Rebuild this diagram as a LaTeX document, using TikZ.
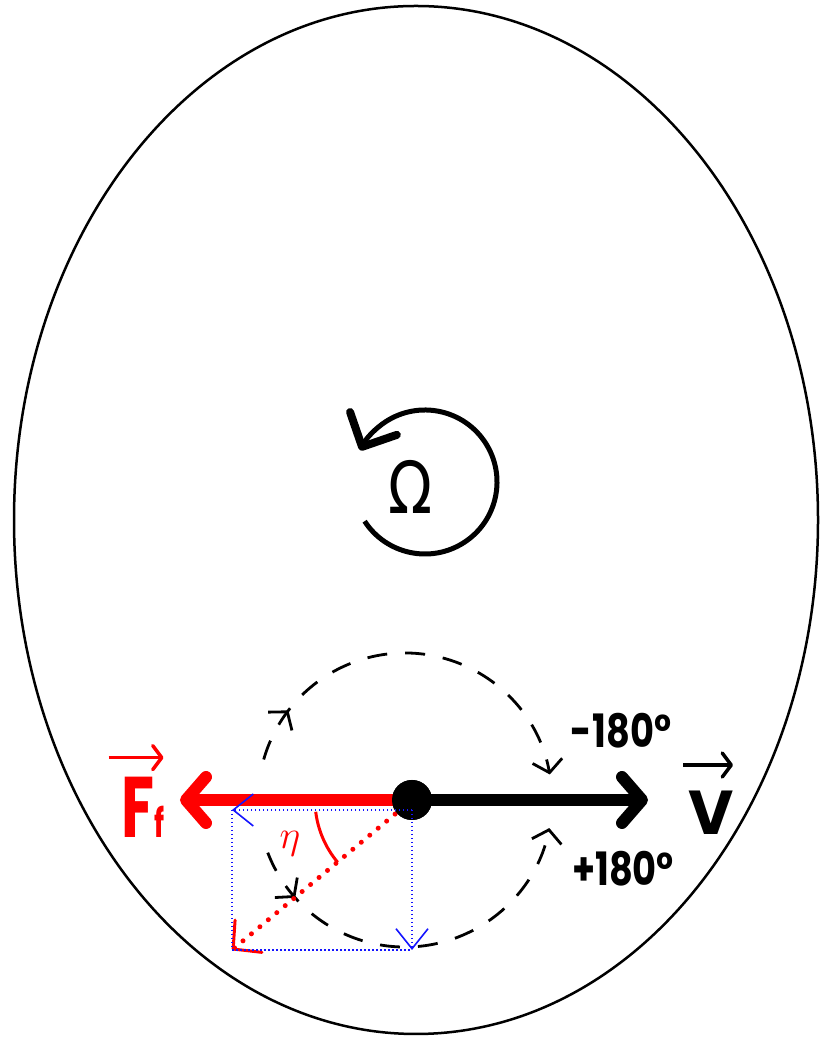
\documentclass[tikz,border=0pt]{standalone}
\usepackage{fontspec}
\setsansfont{Poppins}
\newfontfamily\omegafont{DejaVu Sans}
\usetikzlibrary{arrows.meta,decorations.markings}

\definecolor{fred}{RGB}{255,0,0}
\definecolor{pblue}{RGB}{20,20,255}
\newcommand{\squeeze}[1]{\scalebox{0.8}[1]{#1}}

\begin{document}
\begin{tikzpicture}[x=1pt, y=1pt,
    every node/.style={font=\sffamily, inner sep=0pt},
    hubdot/.style={circle, fill=black, minimum size=40pt},
    bigvec/.style={line width=12pt, -{Straight Barb[length=20pt, width=46pt, round]}},
    overvec/.style={line width=3.5pt, -{Straight Barb[length=9pt, width=24pt, round]}},
    turn/.style={line width=2.8pt, dash pattern=on 20pt off 18pt,
        -{Straight Barb[length=12pt, width=30pt]},
        decoration={markings, mark=at position 0.14 with {\arrow{Straight Barb[length=12pt, width=30pt]}}},
        postaction={decorate}},
    comp/.style={pblue, line width=2.2pt, dash pattern=on 1.5pt off 2.5pt},
    compvec/.style={comp, -{Straight Barb[length=20pt, width=32pt, line width=1.6pt]}},
    resvec/.style={fred, line width=5pt, line cap=round, dash pattern=on 0pt off 11pt,
        -{Straight Barb[length=20pt, width=42pt, line width=3pt, round]}},
    ring/.style={line width=5pt, -{Straight Barb[length=26pt, width=52pt, line width=8pt, round]}},
    lab/.style={font=\sffamily\bfseries\fontsize{46}{50}\selectfont}
]
\useasboundingbox (0,0) rectangle (820,1040);

% outline
\draw[line width=2.5pt] (416,520) ellipse [x radius=402, y radius=514];

% rotation
\coordinate (spin) at (425,558);
\draw[ring] (spin) ++(-147:72) arc[start angle=-147, end angle=154, radius=72];
\node[font=\omegafont\fontsize{72}{72}\selectfont] (omega) at (411,553) {\scalebox{0.8}[1]{Ω}};

% body and turning paths
\node[hubdot] (hub) at (412,240) {};
\coordinate (pivot) at (405,240);
\draw[turn] (pivot) ++(164:147) arc[start angle=164, end angle=10, radius=147];
\draw[turn] (pivot) ++(201:147) arc[start angle=201, end angle=349, radius=147];

% components
\coordinate (qa) at (232,230);
\coordinate (qb) at (412,230);
\coordinate (qc) at (412,90);
\coordinate (qd) at (232,90);
\draw[fred, line width=3pt] (hub.center) ++(187:97) arc[start angle=187, end angle=220, radius=97];
\draw[resvec] (hub.center) -- (qd);

% velocity and friction
\coordinate (vtip) at (648,240);
\coordinate (ftip) at (180,240);
\draw[bigvec, fred] (hub.center) -- (ftip);
\draw[bigvec] (hub.center) -- (vtip);
\node[hubdot] at (hub) {};

\draw[comp] (qa) -- (qd) -- (qc);
\draw[compvec] (qb) -- (qa);
\draw[compvec] (qb) -- (qc);

% labels
\node[lab] (minus) at (621,309) {\squeeze{-180°}};
\node[lab] (plus) at (623,171) {\squeeze{+180°}};
\node[lab, font=\sffamily\bfseries\fontsize{62}{62}\selectfont] (vlab) at (711,227) {V};
\draw[overvec] ([xshift=-28pt, yshift=26pt]vlab.north) -- ([xshift=22pt, yshift=26pt]vlab.north);
\node[lab, fred, font=\sffamily\bfseries\fontsize{86}{86}\selectfont] (flab) at (143.5,233)
    {\scalebox{0.7}[1]{F\fontsize{40}{40}\selectfont f}};
\draw[overvec, fred] ([xshift=-35pt, yshift=19pt]flab.north) -- ([xshift=20pt, yshift=19pt]flab.north);
\node[fred, font=\fontsize{24.88}{26}\selectfont] (eta) at (290,196) {\scalebox{1.6}{$\eta$}};
\end{tikzpicture}
\end{document}
